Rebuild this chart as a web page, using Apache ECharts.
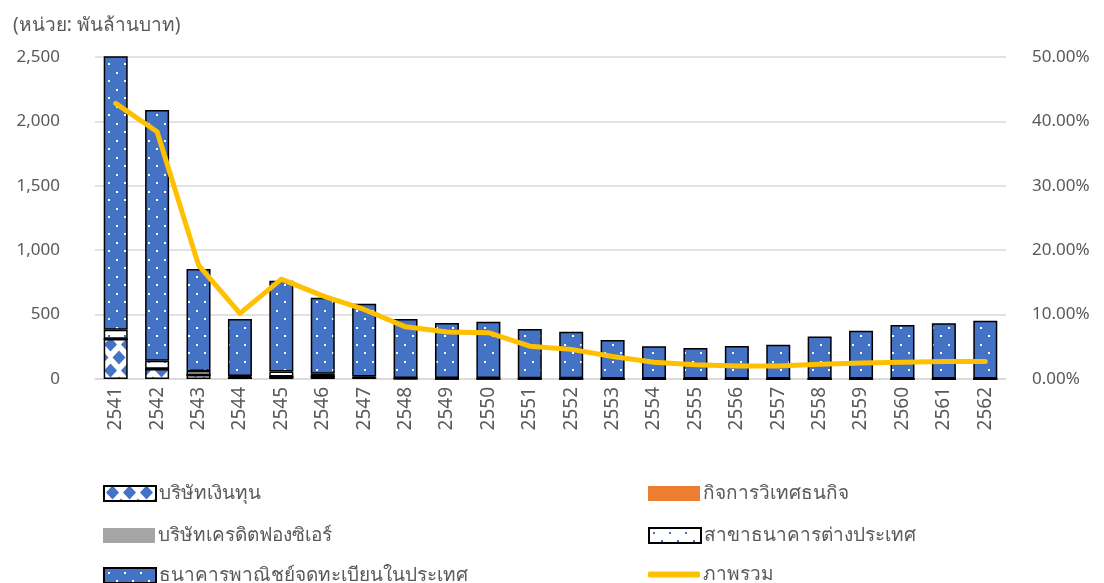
<!DOCTYPE html>
<html>
<head>
<meta charset="utf-8">
<script src="https://cdn.jsdelivr.net/npm/echarts@6/dist/echarts.min.js"></script>
<style>
  html, body { margin: 0; padding: 0; background: #fff; }
  #chart { width: 1104px; height: 583px; }
</style>
</head>
<body>
<div id="chart"></div>
<script>
// ปี พ.ศ.
const years = ['2541', '2542', '2543', '2544', '2545', '2546', '2547', '2548', '2549', '2550', '2551',
    '2552', '2553', '2554', '2555', '2556', '2557', '2558', '2559', '2560', '2561', '2562'];

// หน่วย: พันล้านบาท (อ่านจากภาพ)
const financeCo = [310, 78, 31, 12, 18, 18, 10, 3, 2, 2, 1, 1, 0, 0, 0, 0, 0, 0, 0, 0, 0, 0];
const bibf = [0, 0, 0, 0, 0, 0, 0, 0, 0, 0, 0, 0, 0, 0, 0, 0, 0, 0, 0, 0, 0, 0];
const creditFoncier = [2, 2, 1, 1, 1, 1, 0, 0, 0, 0, 0, 0, 0, 0, 0, 0, 0, 0, 0, 0, 0, 0];
const foreignBranch = [70, 62, 31, 10, 39, 21, 10, 5, 5, 5, 5, 5, 4, 4, 4, 4, 4, 4, 4, 4, 4, 4];
const commercialBank = [2178, 1946, 791, 443, 705, 591, 565, 458, 428, 438, 382, 361, 299, 250, 237, 252,
    262, 325, 371, 415, 428, 449];

// ภาพรวม (% ของสินเชื่อรวม)
const overall = [42.8, 38.4, 17.7, 10.2, 15.5, 12.9, 10.8, 8.1, 7.3, 7.2, 5.1, 4.6, 3.5, 2.6, 2.2, 2.0,
    2.0, 2.3, 2.5, 2.6, 2.7, 2.7];

const leftTicks = [0, 2500, 500];
const rightTicks = [0, 50, 10];

const names = [
    'บริษัทเงินทุน',
    'กิจการวิเทศธนกิจ',
    'บริษัทเครดิตฟองซิเอร์',
    'สาขาธนาคารต่างประเทศ',
    'ธนาคารพาณิชย์จดทะเบียนในประเทศ',
    'ภาพรวม'
];

const BLUE = '#4472C4';
const FONT = 'Noto Sans, sans-serif';
const TEXT = '#595959';

// ลายจุดสีขาวบนพื้นน้ำเงิน / จุดน้ำเงินบนพื้นขาว
function dotPattern(bg, dot) {
    const c = document.createElement('canvas');
    c.width = 16; c.height = 17;
    const ctx = c.getContext('2d');
    ctx.fillStyle = bg;
    ctx.fillRect(0, 0, 16, 17);
    ctx.fillStyle = dot;
    ctx.fillRect(4, 4, 2, 2);
    ctx.fillRect(12, 12, 2, 2);
    return { image: c, repeat: 'repeat' };
}

// ลายข้าวหลามตัด
function diamondPattern() {
    const c = document.createElement('canvas');
    c.width = 17; c.height = 26;
    const ctx = c.getContext('2d');
    ctx.fillStyle = '#fff';
    ctx.fillRect(0, 0, 17, 26);
    ctx.fillStyle = BLUE;
    const d = (x, y) => {
        ctx.beginPath();
        ctx.moveTo(x, y - 7);
        ctx.lineTo(x + 6.5, y);
        ctx.lineTo(x, y + 7);
        ctx.lineTo(x - 6.5, y);
        ctx.closePath();
        ctx.fill();
    };
    d(8.5, 6.5); d(0, 19.5); d(17, 19.5); d(8.5, 32.5); d(0, -6.5); d(17, -6.5);
    return { image: c, repeat: 'repeat' };
}

function barSeries(name, data, color) {
    return {
        name: name,
        type: 'bar',
        stack: 'npl',
        barWidth: 24,
        data: data,
        itemStyle: { color: color, borderColor: '#000', borderWidth: 1.5 }
    };
}

// ตำแหน่งคำอธิบายสัญลักษณ์ (2 คอลัมน์ 3 แถว)
function legendItem(name, left, top, kind) {
    const item = {
        left: left,
        top: top,
        padding: 0,
        itemWidth: 52,
        itemHeight: kind === 'line' ? 6 : 15,
        icon: kind === 'line' ? 'roundRect' : 'rect',
        textStyle: { fontSize: 19, color: TEXT, fontFamily: FONT, padding: [0, 0, 0, -2] },
        data: [name]
    };
    if (kind === 'plain') {
        item.itemStyle = { borderWidth: 0 };
    }
    return item;
}

const chart = echarts.init(document.getElementById('chart'));

chart.setOption({
    animation: false,
    textStyle: { fontFamily: FONT },
    title: {
        text: '(หน่วย: พันล้านบาท)',
        left: 8,
        top: 11,
        textStyle: { fontSize: 19, fontWeight: 'normal', color: TEXT, fontFamily: FONT }
    },
    legend: [
        legendItem(names[0], 103, 484, 'pattern'),
        legendItem(names[2], 103, 526, 'plain'),
        legendItem(names[4], 103, 566, 'pattern'),
        legendItem(names[1], 648, 484, 'plain'),
        legendItem(names[3], 648, 526, 'pattern'),
        legendItem(names[5], 648, 565, 'line')
    ],
    grid: { left: 95, right: 98, top: 57, bottom: 204 },
    xAxis: {
        type: 'category',
        data: years,
        axisLine: { lineStyle: { color: '#D9D9D9', width: 1.5 } },
        axisTick: { show: false },
        axisLabel: { rotate: 90, fontSize: 19, color: TEXT, margin: 8, fontFamily: FONT }
    },
    yAxis: [{
        type: 'value',
        min: leftTicks[0],
        max: leftTicks[1],
        interval: leftTicks[2],
        axisLabel: {
            fontSize: 17, color: TEXT, margin: 35, fontFamily: FONT,
            formatter: v => v.toLocaleString('en-US')
        },
        splitLine: { lineStyle: { color: '#D9D9D9', width: 1.5 } }
    }, {
        type: 'value',
        min: rightTicks[0],
        max: rightTicks[1],
        interval: rightTicks[2],
        axisLabel: {
            fontSize: 17, color: TEXT, margin: 26, fontFamily: FONT,
            formatter: v => v.toFixed(2) + '%'
        },
        splitLine: { show: false }
    }],
    series: [
        barSeries(names[0], financeCo, diamondPattern()),
        barSeries(names[1], bibf, '#ED7D31'),
        barSeries(names[2], creditFoncier, '#A5A5A5'),
        barSeries(names[3], foreignBranch, dotPattern('#fff', BLUE)),
        barSeries(names[4], commercialBank, dotPattern(BLUE, '#fff')),
        {
            name: names[5],
            type: 'line',
            yAxisIndex: 1,
            data: overall,
            showSymbol: false,
            symbol: 'none',
            z: 5,
            lineStyle: { color: '#FFC000', width: 5, cap: 'round', join: 'round' },
            itemStyle: { color: '#FFC000' }
        }
    ]
});

window.addEventListener('resize', () => chart.resize());
</script>
</body>
</html>
